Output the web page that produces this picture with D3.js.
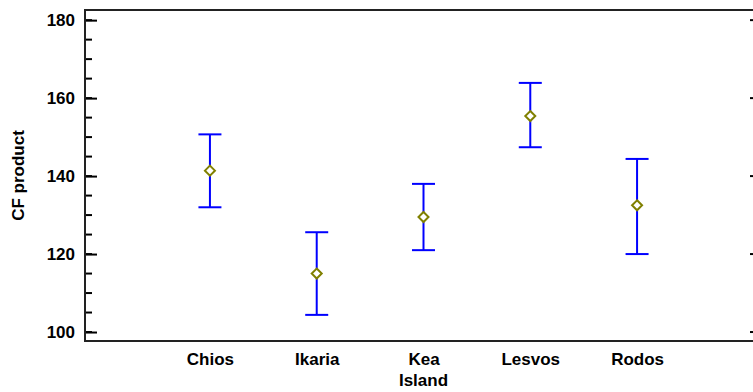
<!DOCTYPE html>
<html>
<head>
<meta charset="utf-8">
<script src="https://cdn.jsdelivr.net/npm/d3@7"></script>
<style>
  body { margin: 0; background: #fff; }
  text { font-family: "Liberation Sans", Arial, sans-serif; font-weight: bold; }
</style>
</head>
<body>
<div id="chart"></div>
<script>
// Data
var islands = ["Chios", "Ikaria", "Kea", "Lesvos", "Rodos"];
var means = [141.4, 115.0, 129.5, 155.4, 132.5];
var lower = [132.0, 104.4, 121.0, 147.4, 120.0];
var upper = [150.7, 125.6, 138.0, 163.9, 144.4];
var yTicks = [100, 120, 140, 160, 180];

var w = 753, h = 392;
var pLeft = 85, pRight = 762, pTop = 10, pBottom = 341;

var svg = d3.select("#chart").append("svg")
    .attr("width", w)
    .attr("height", h);

var x = d3.scalePoint()
    .domain(islands)
    .range([pLeft, pRight])
    .padding(1.17);

var y = d3.scaleLinear()
    .domain([97.7, 182.6])
    .range([pBottom, pTop]);

var minor = d3.range(100, 181, 5);

// left axis, ticks point inward
var yAxisL = d3.axisRight(y).tickValues(yTicks).tickSize(12).tickFormat(d3.format("d"));
var gL = svg.append("g").attr("transform", "translate(" + pLeft + ",0)");
gL.selectAll(".minor").data(minor).enter().append("line")
    .attr("x1", 0).attr("x2", 7)
    .attr("y1", function(d) { return y(d); })
    .attr("y2", function(d) { return y(d); })
    .attr("stroke", "#000").attr("stroke-width", 2);
gL.call(yAxisL);
gL.select(".domain").remove();
gL.selectAll(".tick line").attr("stroke", "#000").attr("stroke-width", 2);
gL.selectAll(".tick text")
    .attr("x", -10)
    .attr("text-anchor", "end")
    .attr("font-size", 17)
    .attr("fill", "#000")
    .attr("font-family", "Liberation Sans, Arial, sans-serif");

// right axis (mostly out of view)
var gR = svg.append("g").attr("transform", "translate(" + pRight + ",0)");
gR.selectAll(".minor").data(minor).enter().append("line")
    .attr("x1", 0).attr("x2", -7)
    .attr("y1", function(d) { return y(d); })
    .attr("y2", function(d) { return y(d); })
    .attr("stroke", "#000").attr("stroke-width", 2);
gR.selectAll(".major").data(yTicks).enter().append("line")
    .attr("x1", 0).attr("x2", -12)
    .attr("y1", function(d) { return y(d); })
    .attr("y2", function(d) { return y(d); })
    .attr("stroke", "#000").attr("stroke-width", 2);

// frame
svg.append("line").attr("x1", pLeft).attr("x2", w).attr("y1", pTop).attr("y2", pTop)
    .attr("stroke", "#222").attr("stroke-width", 2);
svg.append("line").attr("x1", pLeft).attr("x2", w).attr("y1", pBottom).attr("y2", pBottom)
    .attr("stroke", "#222").attr("stroke-width", 2);
svg.append("line").attr("x1", pLeft).attr("x2", pLeft).attr("y1", pTop - 1).attr("y2", pBottom + 1)
    .attr("stroke", "#222").attr("stroke-width", 2);

// x axis labels
var xAxis = d3.axisBottom(x).tickSize(0).tickPadding(0);
var gX = svg.append("g").attr("transform", "translate(0," + pBottom + ")").call(xAxis);
gX.select(".domain").remove();
gX.selectAll(".tick text")
    .attr("y", 24)
    .attr("dy", 0)
    .attr("font-size", 17)
    .attr("fill", "#000")
    .attr("font-family", "Liberation Sans, Arial, sans-serif");

// error bars
var cap = 11.5;
var g = svg.append("g");
islands.forEach(function(d, i) {
    var cx = x(d);
    g.append("line").attr("x1", cx).attr("x2", cx)
        .attr("y1", y(lower[i])).attr("y2", y(upper[i]))
        .attr("stroke", "#0000ff").attr("stroke-width", 2);
    g.append("line").attr("x1", cx - cap).attr("x2", cx + cap)
        .attr("y1", y(upper[i])).attr("y2", y(upper[i]))
        .attr("stroke", "#0000ff").attr("stroke-width", 2);
    g.append("line").attr("x1", cx - cap).attr("x2", cx + cap)
        .attr("y1", y(lower[i])).attr("y2", y(lower[i]))
        .attr("stroke", "#0000ff").attr("stroke-width", 2);
});

// mean markers
g.selectAll("path.mean").data(islands).enter().append("path")
    .attr("class", "mean")
    .attr("d", "M0,-5L5,0L0,5L-5,0Z")
    .attr("transform", function(d, i) { return "translate(" + x(d) + "," + y(means[i]) + ")"; })
    .attr("fill", "#fff")
    .attr("stroke", "#808000")
    .attr("stroke-width", 2);

// axis titles
svg.append("text")
    .attr("x", x("Kea"))
    .attr("y", 386)
    .attr("text-anchor", "middle")
    .attr("font-size", 17)
    .text("Island");

svg.append("text")
    .attr("transform", "translate(24," + ((pTop + pBottom) / 2) + ") rotate(-90)")
    .attr("text-anchor", "middle")
    .attr("font-size", 17)
    .text("CF product");
</script>
</body>
</html>
